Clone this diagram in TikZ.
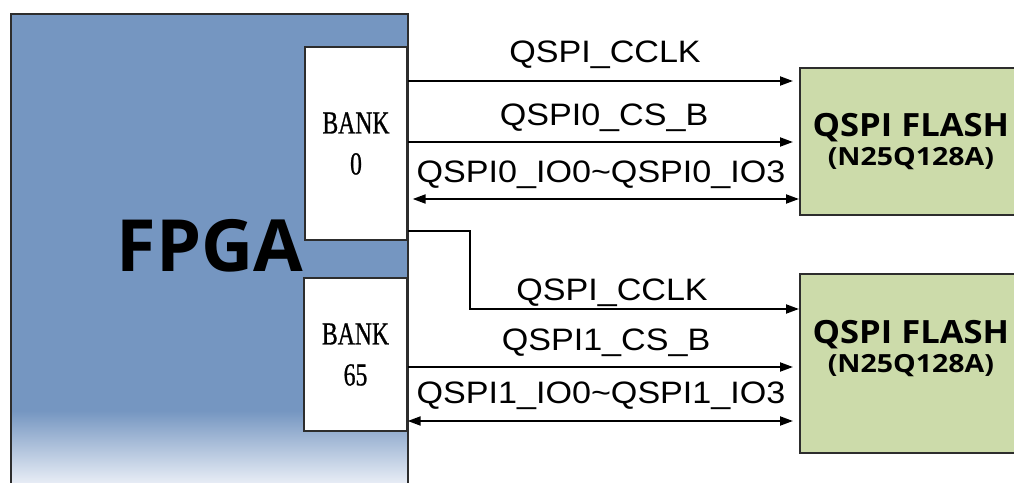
\documentclass[tikz,border=0pt]{standalone}
\usepackage{fontspec}
\usetikzlibrary{arrows.meta}
\newfontfamily\labelfont[FakeStretch=1.1]{Liberation Sans}
\newfontfamily\bankfont[FakeStretch=0.74,FakeBold=0.8]{Liberation Serif}
\newfontfamily\titlefont{Open Sans}
\newfontfamily\flashfont[FakeStretch=1.08]{Open Sans}
\newfontfamily\partfont[FakeStretch=1.14]{Open Sans}
\definecolor{fpgablue}{RGB}{117,150,193}
\definecolor{fadewhite}{RGB}{244,246,251}
\definecolor{flashgreen}{RGB}{204,219,170}
\definecolor{edgegray}{RGB}{45,45,45}
\pgfdeclareverticalshading{fpgashade}{100bp}{color(0bp)=(fadewhite); color(25bp)=(fadewhite); color(33.4bp)=(fpgablue); color(100bp)=(fpgablue)}
\tikzset{
  bankbox/.style={draw=edgegray, fill=white, line width=1.3pt, inner sep=0pt, align=center,
    font=\bankfont\fontsize{32}{41}\selectfont},
  flashbox/.style={draw=edgegray, fill=flashgreen, line width=1.8pt, inner sep=0pt, align=center,
    anchor=north west, minimum width=222pt, font=\flashfont\bfseries\fontsize{32}{29}\selectfont},
  lbl/.style={anchor=base, inner sep=0pt, font=\labelfont\fontsize{31}{31}\selectfont},
  sig/.style={line width=2pt, -{Triangle[length=13pt,width=9pt]}},
  bisig/.style={line width=2pt, {Triangle[length=13pt,width=9pt]}-{Triangle[length=13pt,width=9pt]}},
}
\begin{document}
\begin{tikzpicture}[x=1pt,y=-1pt]
\useasboundingbox (0,0) rectangle (1014,482);
\clip (0,0) rectangle (1014,482);
% FPGA body
\node[draw=edgegray, line width=1.5pt, shading=fpgashade, minimum width=397pt, minimum height=477pt,
      inner sep=0pt, anchor=north west] (fpga) at (10,13) {};
\node[anchor=base, inner sep=0pt, font=\titlefont\bfseries\fontsize{72}{72}\selectfont] (fpgalabel) at (210,271) {FPGA};
% banks
\node[bankbox, minimum width=102pt, minimum height=193pt] (bank0) at (356,143.5) {BANK\\0};
\node[bankbox, minimum width=103pt, minimum height=153pt] (bank65) at (355.5,354.5) {BANK\\65};
% flashes
\node[flashbox, minimum height=147pt] (flash1) at (799,67)
  {QSPI FLASH\\{\partfont\bfseries\fontsize{25}{29}\selectfont (N25Q128A)}};
\node[flashbox, minimum height=179pt] (flash2) at (799,273)
  {QSPI FLASH\\{\partfont\bfseries\fontsize{25}{29}\selectfont (N25Q128A)}\\[6pt]};
% row coordinates
\coordinate (r1) at (0,81);
\coordinate (r2) at (0,142);
\coordinate (r3) at (0,199);
\coordinate (r4) at (0,231);
\coordinate (bend) at (470,231);
\coordinate (r5) at (0,309);
\coordinate (r6) at (0,367);
\coordinate (r7) at (0,421);
% connectors
\draw[sig, shorten >=6pt] (bank0.east |- r1) -- (flash1.west |- r1);
\draw[sig, shorten >=6pt] (bank0.east |- r2) -- (flash1.west |- r2);
\draw[bisig, shorten <=5pt] (bank0.east |- r3) -- (flash1.west |- r3);
\draw[sig] (bank0.east |- r4) -- (bend) |- (flash2.west |- r5);
\draw[sig, shorten >=6pt] (bank65.east |- r6) -- (flash2.west |- r6);
\draw[bisig, shorten >=6pt] (bank65.east |- r7) -- (flash2.west |- r7);
% labels
\node[lbl] (l1) at (605,62) {QSPI\_CCLK};
\node[lbl] (l2) at (604,125) {QSPI0\_CS\_B};
\node[lbl] (l3) at (601,182) {QSPI0\_IO0\textasciitilde{}QSPI0\_IO3};
\node[lbl] (l4) at (612,300) {QSPI\_CCLK};
\node[lbl] (l5) at (606,350) {QSPI1\_CS\_B};
\node[lbl] (l6) at (601,403) {QSPI1\_IO0\textasciitilde{}QSPI1\_IO3};
\end{tikzpicture}
\end{document}
